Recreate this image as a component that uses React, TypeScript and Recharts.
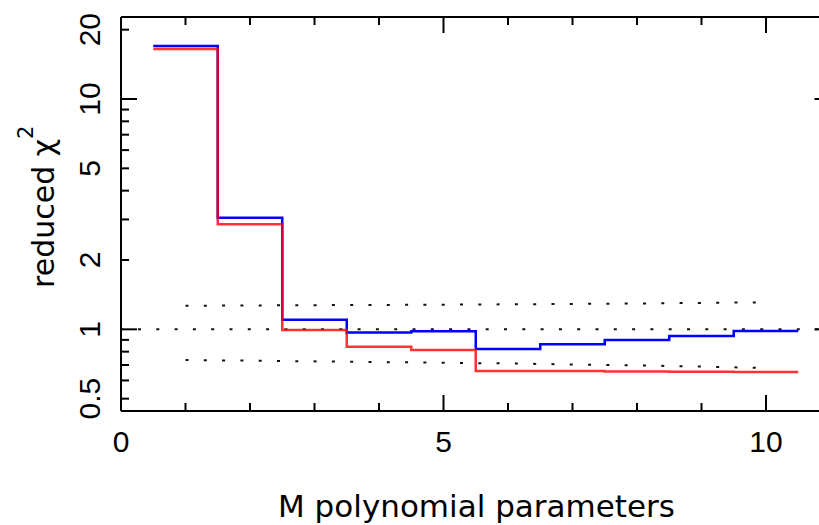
import React from "react";
import { LineChart, Line, XAxis, YAxis, ReferenceLine } from "recharts";

const M = [1, 2, 3, 4, 5, 6, 7, 8, 9, 10];
const blueChi = [17.0, 3.05, 1.1, 0.97, 0.98, 0.821, 0.862, 0.898, 0.935, 0.983];
const redChi = [16.5, 2.86, 0.993, 0.84, 0.813, 0.66, 0.659, 0.656, 0.654, 0.653];
const bandUpper = [1.266, 1.27, 1.273, 1.276, 1.28, 1.284, 1.289, 1.295, 1.302, 1.31];
const bandLower = [0.736, 0.731, 0.726, 0.721, 0.716, 0.711, 0.704, 0.697, 0.689, 0.679];

const xTicks = [0, 1, 2, 3, 4, 5, 6, 7, 8, 9, 10];
const xLabelTicks = [0, 5, 10];
const yTicks = [0.5, 0.6, 0.7, 0.8, 0.9, 1, 2, 3, 4, 5, 6, 7, 8, 9, 10, 20];
const yLabelTicks = [0.5, 1, 2, 5, 10, 20];
const yMajorTicks = [1, 10];

const last = M.length - 1;
const stepData = M.map((m, i) => ({ x: m - 0.5, blue: blueChi[i], red: redChi[i] })).concat([
  { x: M[last] + 0.5, blue: blueChi[last], red: redChi[last] },
]);
const bandData = M.map((m, i) => ({ x: m, upper: bandUpper[i], lower: bandLower[i] }));

const TICK_FONT = "'Liberation Sans', Arial, sans-serif";
const LABEL_FONT = "'DejaVu Sans', sans-serif";

const PLOT_LEFT = 121;
const PLOT_TOP = 17;
const PLOT_BOTTOM = 411;
const PLOT_RIGHT = 830.5;

const XTickBottom = (props: any) => {
  const { x, payload } = props;
  const y = PLOT_BOTTOM;
  const v = payload.value;
  const major = v % 5 === 0;
  return (
    <g>
      <line x1={x} x2={x} y1={y} y2={y - (major ? 16 : 8)} stroke="#000" strokeWidth={2} />
      {xLabelTicks.includes(v) && (
        <text x={x} y={y + 41} textAnchor="middle" fontSize={30} fontFamily={TICK_FONT} fill="#000">
          {v}
        </text>
      )}
    </g>
  );
};

const XTickTop = (props: any) => {
  const { x, payload } = props;
  const y = PLOT_TOP;
  const v = payload.value;
  const major = v % 5 === 0;
  return <line x1={x} x2={x} y1={y} y2={y + (major ? 16 : 8)} stroke="#000" strokeWidth={2} />;
};

const YTickLeft = (props: any) => {
  const { y, payload } = props;
  const x = PLOT_LEFT;
  const v = payload.value;
  const major = yMajorTicks.includes(v);
  return (
    <g>
      <line x1={x} x2={x + (major ? 16 : 8)} y1={y} y2={y} stroke="#000" strokeWidth={2} />
      {yLabelTicks.includes(v) && (
        <text
          transform={`translate(100, ${y}) rotate(-90)`}
          textAnchor="middle"
          fontSize={30}
          fontFamily={TICK_FONT}
          fill="#000"
        >
          {v}
        </text>
      )}
    </g>
  );
};

const YTickRight = (props: any) => {
  const { y, payload } = props;
  const x = PLOT_RIGHT;
  const v = payload.value;
  const major = yMajorTicks.includes(v);
  return <line x1={x} x2={x - (major ? 16 : 8)} y1={y} y2={y} stroke="#000" strokeWidth={2} />;
};

const axisLineStyle = { stroke: "#000", strokeWidth: 2 };
const yDomain = [0.442, 22.7];

export default function App() {
  return (
    <div
      style={{
        position: "absolute",
        left: 0,
        top: 0,
        width: 819,
        height: 525,
        overflow: "hidden",
        background: "#fff",
      }}
    >
      <LineChart
        width={860}
        height={525}
        data={stepData}
        margin={{ top: 16, right: 28.5, left: 120, bottom: 113 }}
      >
        <XAxis
          xAxisId="b"
          type="number"
          dataKey="x"
          domain={[0, 11]}
          allowDataOverflow
          ticks={xTicks}
          interval={0}
          orientation="bottom"
          height={1}
          tickSize={0}
          tickMargin={0}
          tickLine={false}
          axisLine={axisLineStyle}
          tick={XTickBottom}
        />
        <XAxis
          xAxisId="t"
          type="number"
          dataKey="x"
          domain={[0, 11]}
          allowDataOverflow
          ticks={xTicks}
          interval={0}
          orientation="top"
          height={1}
          tickSize={0}
          tickMargin={0}
          tickLine={false}
          axisLine={axisLineStyle}
          tick={XTickTop}
        />
        <YAxis
          yAxisId="l"
          scale="log"
          type="number"
          domain={yDomain}
          allowDataOverflow
          ticks={yTicks}
          interval={0}
          orientation="left"
          width={1}
          tickSize={0}
          tickMargin={0}
          tickLine={false}
          axisLine={axisLineStyle}
          tick={YTickLeft}
        />
        <YAxis
          yAxisId="r"
          scale="log"
          type="number"
          domain={yDomain}
          allowDataOverflow
          ticks={yTicks}
          interval={0}
          orientation="right"
          width={1}
          tickSize={0}
          tickMargin={0}
          tickLine={false}
          axisLine={axisLineStyle}
          tick={YTickRight}
        />
        <ReferenceLine
          xAxisId="b"
          yAxisId="l"
          y={1}
          stroke="#111"
          strokeWidth={2}
          strokeDasharray="3 15.3"
          strokeDashoffset={-17}
        />
        <Line
          xAxisId="b"
          yAxisId="l"
          data={bandData}
          dataKey="upper"
          type="linear"
          stroke="#111"
          strokeWidth={2}
          strokeDasharray="3 15.3"
          dot={false}
          isAnimationActive={false}
        />
        <Line
          xAxisId="b"
          yAxisId="l"
          data={bandData}
          dataKey="lower"
          type="linear"
          stroke="#111"
          strokeWidth={2}
          strokeDasharray="3 15.3"
          dot={false}
          isAnimationActive={false}
        />
        <Line
          xAxisId="b"
          yAxisId="l"
          dataKey="blue"
          type="stepAfter"
          stroke="#0000ff"
          strokeWidth={2.5}
          dot={false}
          isAnimationActive={false}
        />
        <Line
          xAxisId="b"
          yAxisId="l"
          dataKey="red"
          type="stepAfter"
          stroke="#ff0000"
          strokeOpacity={0.8}
          strokeWidth={2.5}
          dot={false}
          isAnimationActive={false}
        />
        <text
          x={476.5}
          y={517}
          textAnchor="middle"
          fontSize={30}
          fontFamily={LABEL_FONT}
          fill="#000"
          textLength={397}
          lengthAdjust="spacingAndGlyphs"
        >
          M polynomial parameters
        </text>
        <text
          transform="translate(54, 288) rotate(-90)"
          textAnchor="start"
          fontSize={30}
          fontFamily={LABEL_FONT}
          fill="#000"
        >
          reduced χ
          <tspan fontSize={21} dy={-21}>
            2
          </tspan>
        </text>
      </LineChart>
    </div>
  );
}
